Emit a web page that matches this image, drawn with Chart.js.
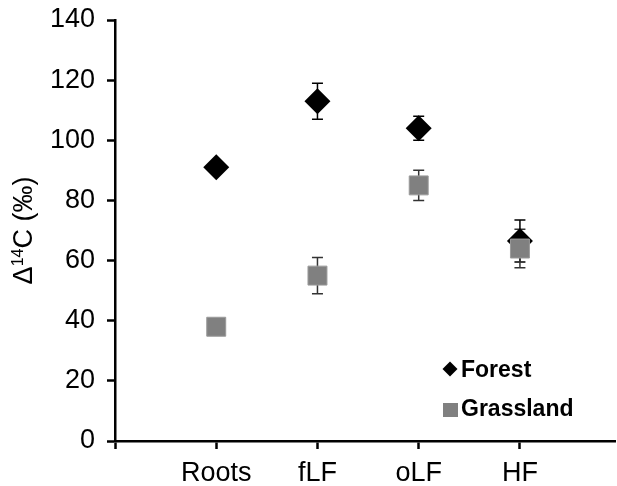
<!DOCTYPE html>
<html>
<head>
<meta charset="utf-8">
<script src="https://cdn.jsdelivr.net/npm/chart.js@4/dist/chart.umd.min.js"></script>
<style>
html,body{margin:0;padding:0;background:#fff;overflow:hidden;}
#wrap{position:relative;width:617px;height:486px;overflow:hidden;}
#c{position:absolute;left:0;top:0;}
</style>
</head>
<body>
<div id="wrap"><canvas id="c" width="630" height="486"></canvas></div>
<script>
const categories = ['', 'Roots', 'fLF', 'oLF', 'HF'];
const seriesNames = ['Forest', 'Grassland'];
const forestValues = [91, 113, 104, 66.5];
const forestErrors = [0, 6, 4, 7];
const grassValues = [38, 55, 85, 64];
const grassErrors = [0, 6, 5, 6.4];
const yTicks = [0, 20, 40, 60, 80, 100, 120, 140];

const FONT = "'Liberation Sans', Arial, sans-serif";

function pts(vals) { return vals.map((v, i) => ({x: i + 1, y: v})); }

const errorBars = {
  id: 'errorBars',
  beforeDatasetsDraw(chart) {
    const ctx = chart.ctx;
    const xs = chart.scales.x, ys = chart.scales.y;
    const sets = [[forestValues, forestErrors, '#000'], [grassValues, grassErrors, '#333']];
    ctx.save();
    sets.forEach(([vals, errs, col]) => {
      ctx.strokeStyle = col;
      ctx.lineWidth = 1.5;
      vals.forEach((v, i) => {
        if (!errs[i]) return;
        const x = xs.getPixelForValue(i + 1);
        const y1 = ys.getPixelForValue(v + errs[i]);
        const y2 = ys.getPixelForValue(v - errs[i]);
        ctx.beginPath();
        ctx.moveTo(x, y1); ctx.lineTo(x, y2);
        ctx.moveTo(x - 5.5, y1); ctx.lineTo(x + 5.5, y1);
        ctx.moveTo(x - 5.5, y2); ctx.lineTo(x + 5.5, y2);
        ctx.stroke();
      });
    });
    ctx.restore();
  }
};

const extras = {
  id: 'extras',
  afterDraw(chart) {
    const ctx = chart.ctx;
    const a = chart.chartArea;
    ctx.save();
    // y axis title with superscript
    const cy = (a.top + a.bottom) / 2;
    ctx.translate(32, cy);
    ctx.rotate(-Math.PI / 2);
    ctx.fillStyle = '#000';
    ctx.textBaseline = 'alphabetic';
    const big = "27px " + FONT, small = "16px " + FONT;
    ctx.font = big; const w1 = ctx.measureText('\u0394').width;
    ctx.font = small; const w2 = ctx.measureText('14').width;
    ctx.font = big; const w3 = ctx.measureText('C (\u2030)').width;
    let x = -(w1 + w2 + w3) / 2;
    ctx.font = big; ctx.fillText('\u0394', x, 0); x += w1;
    ctx.font = small; ctx.fillText('14', x, -9); x += w2;
    ctx.font = big; ctx.fillText('C (\u2030)', x, 0);
    ctx.restore();

    // legend
    ctx.save();
    ctx.fillStyle = '#000';
    ctx.beginPath();
    const dx = 450, dy = 369, r = 7.5;
    ctx.moveTo(dx, dy - r); ctx.lineTo(dx + r, dy); ctx.lineTo(dx, dy + r); ctx.lineTo(dx - r, dy); ctx.closePath();
    ctx.fill();
    ctx.fillStyle = '#808080';
    ctx.fillRect(443, 403, 15, 14);
    ctx.fillStyle = '#000';
    ctx.font = "bold 23px " + FONT;
    ctx.textBaseline = 'alphabetic';
    ctx.fillText(seriesNames[0], 461, 377);
    ctx.fillText(seriesNames[1], 461, 416);
    ctx.restore();
  }
};

new Chart(document.getElementById('c'), {
  type: 'scatter',
  data: {
    datasets: [
      {label: seriesNames[0], data: pts(forestValues), pointStyle: 'rectRot', pointRadius: 13, pointHoverRadius: 13,
       backgroundColor: '#000', borderColor: '#000', borderWidth: 0, order: 2},
      {label: seriesNames[1], data: pts(grassValues), pointStyle: 'rect', pointRadius: 13.4, pointHoverRadius: 13.4,
       backgroundColor: '#808080', borderColor: '#9a9a9a', borderWidth: 1, order: 1}
    ]
  },
  options: {
    responsive: false,
    animation: false,
    events: [],
    layout: {padding: {top: 20, left: 0, right: 0, bottom: 0}},
    plugins: {legend: {display: false}, tooltip: {enabled: false}},
    scales: {
      x: {
        type: 'linear', min: 0, max: 4.945,
        afterBuildTicks: s => { s.ticks = categories.map((c, i) => ({value: i})); },
        afterFit: s => { s.height = 45; s.paddingLeft = 0; s.paddingRight = 0; },
        ticks: {autoSkip: false, maxRotation: 0, padding: 8, color: '#000',
                font: {family: FONT, size: 27},
                callback: v => categories[v] !== undefined ? categories[v] : ''},
        grid: {drawOnChartArea: false, drawTicks: true, tickLength: 8, tickWidth: 2.5, tickColor: '#000'},
        border: {display: true, color: '#000', width: 2.5}
      },
      y: {
        min: 0, max: 140,
        afterBuildTicks: s => { s.ticks = yTicks.map(v => ({value: v})); },
        afterFit: s => { s.width = 115; s.paddingTop = 0; s.paddingBottom = 0; },
        ticks: {padding: 12, color: '#000', font: {family: FONT, size: 27}},
        grid: {drawOnChartArea: false, drawTicks: true, tickLength: 8, tickWidth: 2.5, tickColor: '#000'},
        border: {display: true, color: '#000', width: 2.5}
      }
    }
  },
  plugins: [errorBars, extras]
});
</script>
</body>
</html>
